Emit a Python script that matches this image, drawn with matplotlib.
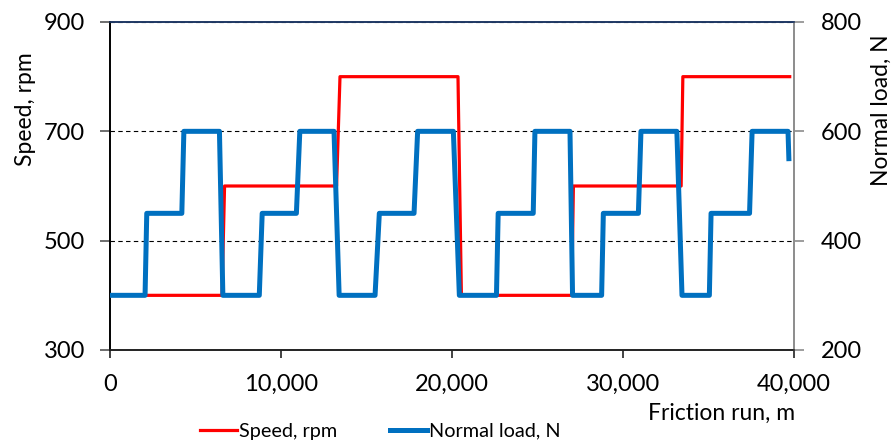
"""
speed / normal load programme over the friction run
"""

import matplotlib
matplotlib.use("agg")
import matplotlib.pyplot as plt
from matplotlib.ticker import FuncFormatter, MultipleLocator

# friction run (m) and speed (rpm) breakpoints
speed_x = [0, 6550, 6700, 13250, 13450, 20350, 20550, 27000, 27100,
           33400, 33500, 39750]
speed_y = [400, 400, 600, 600, 800, 800, 400, 400, 600, 600, 800, 800]

# friction run (m) and normal load (N) breakpoints
load_x = [0, 2050, 2150, 4200, 4320, 6400, 6600, 8730, 8900, 10900, 11100,
          13100, 13400, 15500, 15750, 17780, 17990, 20080, 20430, 22600,
          22700, 24750, 24850, 26900, 27050, 28750, 28850, 30900, 31050,
          33150, 33450, 35050, 35150, 37400, 37550, 39650, 39700]
load_y = [300, 300, 450, 450, 600, 600, 300, 300, 450, 450, 600,
          600, 300, 300, 450, 450, 600, 600, 300, 300,
          450, 450, 600, 600, 300, 300, 450, 450, 600,
          600, 300, 300, 450, 450, 600, 600, 550]

speed_ticks = [300, 500, 700, 900]
load_ticks = [200, 400, 600, 800]

plt.rcParams['font.family'] = ['Lato', 'DejaVu Sans']

W, H = 892, 440
fig = plt.figure(figsize=(W / 100, H / 100), dpi=100)
ax = fig.add_axes([110 / W, 1 - 350 / H, 684 / W, 328 / H])
ax2 = ax.twinx()

l1, = ax.plot(speed_x, speed_y, color='#FF0000', lw=2.3,
              label='Speed, rpm', zorder=3)
l2, = ax2.plot(load_x, load_y, color='#0070C0', lw=3.6,
               label='Normal load, N', zorder=3)

ax.set_xlim(0, 40000)
ax.set_ylim(300, 900)
ax2.set_ylim(200, 800)
ax.set_yticks(speed_ticks)
ax2.set_yticks(load_ticks)
ax.xaxis.set_major_locator(MultipleLocator(10000))
ax.xaxis.set_major_formatter(FuncFormatter(lambda v, p: f"{int(v):,}"))

ax.grid(axis='y', color='black', ls=(0, (4, 3)), lw=0.8)
ax.set_axisbelow(True)

for a in (ax, ax2):
    a.spines['left'].set_color('black')
    a.spines['bottom'].set_color('#222222')
    a.spines['top'].set_color('#1F3864')
    a.spines['right'].set_color('#8C8C8C')
    for s in a.spines.values():
        s.set_linewidth(1.2)

ax.tick_params(axis='y', labelsize=17, length=7, width=1.2,
               color='#555555', pad=11)
ax.tick_params(axis='x', labelsize=17, length=6, width=1.2,
               color='#222222', pad=11)
ax2.tick_params(axis='y', labelsize=17, length=7, width=1.2,
                color='#8C8C8C', pad=12)

fig.text(25 / W, 1 - 109 / H, 'Speed, rpm', rotation=90,
         ha='center', va='center', fontsize=16.5)
fig.text(881 / W, 1 - 110 / H, 'Normal load, N', rotation=90,
         ha='center', va='center', fontsize=16.5)
fig.text(795 / W, 1 - 413 / H, 'Friction run, m',
         ha='right', va='center', fontsize=16.5)

fig.legend(handles=[l1, l2], loc='center', ncol=2, frameon=False,
           bbox_to_anchor=(380 / W, 1 - 431 / H), fontsize=14.3,
           handlelength=1.86, handletextpad=0.1, columnspacing=2.66,
           borderpad=0, borderaxespad=0)

fig.savefig("out.png", dpi=100)
